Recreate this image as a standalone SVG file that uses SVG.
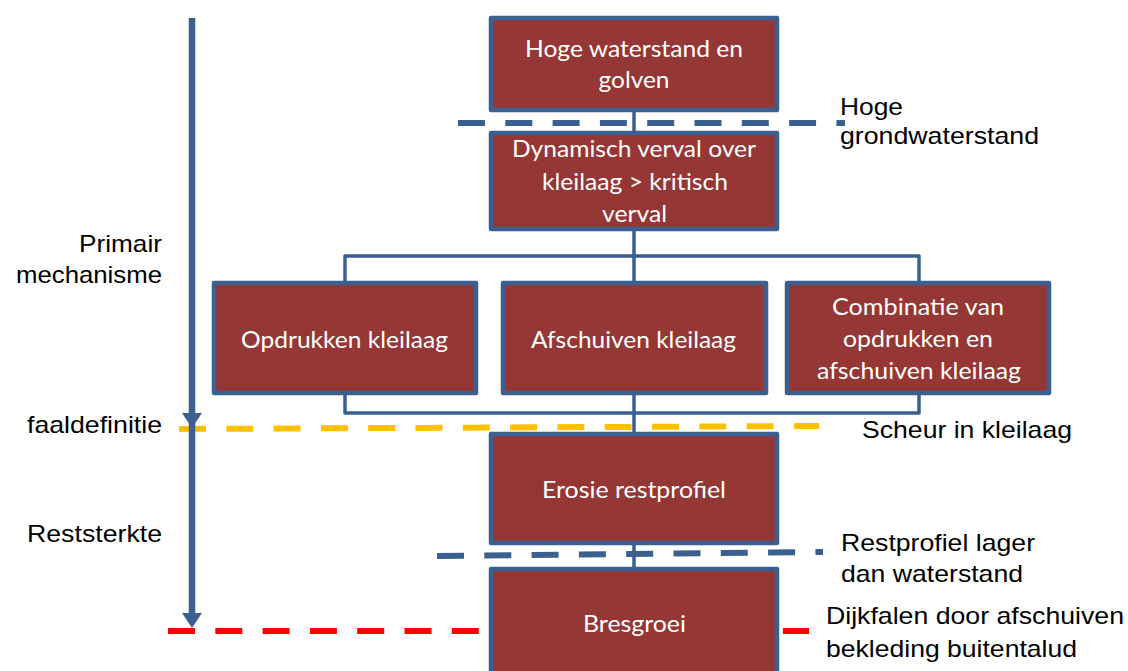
<svg xmlns="http://www.w3.org/2000/svg" width="1128" height="671" viewBox="0 0 1128 671">
<style>
.box{fill:#953735;stroke:#3B5F8E;stroke-width:4.5;stroke-linejoin:round}
.bt{font-family:Lato,"Open Sans",sans-serif;font-size:24px;fill:#fff;text-anchor:middle}
.lt{font-family:"Liberation Sans",Arial,sans-serif;font-size:24px;fill:#000}
.conn{fill:none;stroke:#3B5F8E;stroke-width:3.5;stroke-linejoin:round}
.dash{fill:none;stroke-width:6;stroke-dasharray:27 20.3}
</style>
<defs>
<marker id="ah" markerUnits="userSpaceOnUse" markerWidth="16" markerHeight="22" viewBox="0 -11 16 22" refX="0" refY="0" orient="auto" overflow="visible">
<path d="M0,-10 L15,0 L0,10 z" fill="#3B5F8E"/>
</marker>
</defs>
<rect width="1128" height="671" fill="#fff"/>
<g id="levels">
<path class="dash" stroke="#3B5F8E" d="M458,123 H845"/>
<path class="dash" stroke="#FFC000" d="M179,429 L819,426"/>
<path class="dash" stroke="#FF0000" d="M168,631 H809"/>
<path class="dash" stroke="#3B5F8E" d="M437,556 L823,552"/>
</g>
<g id="connectors">
<path class="conn" d="M634,110 V569"/>
<path class="conn" d="M345,283 V256 H919 V283"/>
<path class="conn" d="M345,393 V413 H919 V393"/>
<path fill="none" stroke="#3B5F8E" stroke-width="6.5" d="M192,18 V413 V613" marker-mid="url(#ah)" marker-end="url(#ah)"/>
</g>
<g id="n1"><rect class="box" x="491" y="18" width="286" height="92"/>
<text class="bt" x="634" y="57" textLength="218" lengthAdjust="spacingAndGlyphs">Hoge waterstand en</text>
<text class="bt" x="634" y="88" textLength="71" lengthAdjust="spacingAndGlyphs">golven</text></g>
<g id="n2"><rect class="box" x="491" y="133" width="286" height="96"/>
<text class="bt" x="634" y="157" textLength="244" lengthAdjust="spacingAndGlyphs">Dynamisch verval over</text>
<text class="bt" x="635" y="190" textLength="186" lengthAdjust="spacingAndGlyphs">kleilaag &gt; kritisch</text>
<text class="bt" x="634.5" y="222" textLength="65" lengthAdjust="spacingAndGlyphs">verval</text></g>
<g id="n3"><rect class="box" x="214" y="283" width="262" height="110"/>
<text class="bt" x="344.5" y="348" textLength="207" lengthAdjust="spacingAndGlyphs">Opdrukken kleilaag</text></g>
<g id="n4"><rect class="box" x="503" y="283" width="263" height="110"/>
<text class="bt" x="633.5" y="348" textLength="205" lengthAdjust="spacingAndGlyphs">Afschuiven kleilaag</text></g>
<g id="n5"><rect class="box" x="787" y="283" width="262" height="110"/>
<text class="bt" x="918" y="315" textLength="172" lengthAdjust="spacingAndGlyphs">Combinatie van</text>
<text class="bt" x="918" y="347" textLength="150" lengthAdjust="spacingAndGlyphs">opdrukken en</text>
<text class="bt" x="919" y="379" textLength="204" lengthAdjust="spacingAndGlyphs">afschuiven kleilaag</text></g>
<g id="n6"><rect class="box" x="491" y="434" width="286" height="109"/>
<text class="bt" x="634" y="498" textLength="184" lengthAdjust="spacingAndGlyphs">Erosie restprofiel</text></g>
<g id="n7"><rect class="box" x="491" y="569" width="286" height="110"/>
<text class="bt" x="634.5" y="632" textLength="103" lengthAdjust="spacingAndGlyphs">Bresgroei</text></g>
<g id="labels">
<text class="lt" x="79" y="252" textLength="83" lengthAdjust="spacingAndGlyphs">Primair</text>
<text class="lt" x="16" y="283" textLength="146" lengthAdjust="spacingAndGlyphs">mechanisme</text>
<text class="lt" x="27" y="433" textLength="135" lengthAdjust="spacingAndGlyphs">faaldefinitie</text>
<text class="lt" x="27" y="542" textLength="135" lengthAdjust="spacingAndGlyphs">Reststerkte</text>
<text class="lt" x="840" y="115" textLength="63" lengthAdjust="spacingAndGlyphs">Hoge</text>
<text class="lt" x="840" y="144" textLength="199" lengthAdjust="spacingAndGlyphs">grondwaterstand</text>
<text class="lt" x="862" y="438" textLength="210" lengthAdjust="spacingAndGlyphs">Scheur in kleilaag</text>
<text class="lt" x="841" y="551" textLength="194" lengthAdjust="spacingAndGlyphs">Restprofiel lager</text>
<text class="lt" x="841" y="582" textLength="182" lengthAdjust="spacingAndGlyphs">dan waterstand</text>
<text class="lt" x="826" y="624" textLength="298" lengthAdjust="spacingAndGlyphs">Dijkfalen door afschuiven</text>
<text class="lt" x="826" y="657" textLength="251" lengthAdjust="spacingAndGlyphs">bekleding buitentalud</text>
</g>
</svg>
